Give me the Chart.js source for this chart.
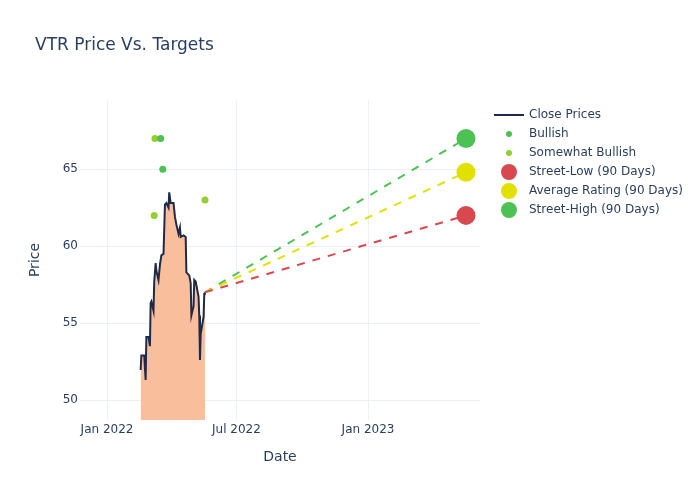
<!DOCTYPE html>
<html><head><meta charset="utf-8">
<script src="https://cdn.jsdelivr.net/npm/chart.js@4"></script>
<style>html,body{margin:0;padding:0;background:#fff}</style>
</head><body>
<canvas id="c" width="700" height="500" style="width:700px;height:500px;display:block"></canvas>
<script>
// ---------- data ----------
const closeDates = ['2022-02-17','2022-02-18','2022-02-22','2022-02-24','2022-02-25','2022-02-28','2022-03-02','2022-03-03','2022-03-04','2022-03-07','2022-03-08','2022-03-10','2022-03-11','2022-03-14','2022-03-16','2022-03-18','2022-03-21','2022-03-23','2022-03-25','2022-03-28','2022-03-29','2022-03-31','2022-04-01','2022-04-04','2022-04-06','2022-04-08','2022-04-11','2022-04-13','2022-04-14','2022-04-18','2022-04-21','2022-04-22','2022-04-26','2022-04-28','2022-04-29','2022-05-02','2022-05-03','2022-05-05','2022-05-09','2022-05-10','2022-05-11','2022-05-12','2022-05-16','2022-05-17','2022-05-18'];
const closeValues = [51.95,52.9,52.9,51.3,54.1,54.1,53.5,56.3,56.4,55.8,57.7,58.9,58.4,57.8,58.8,59.4,59.5,62.7,62.8,62.5,63.5,62.8,62.8,62.8,61.9,61.4,60.8,61.2,60.6,60.7,60.6,58.3,58.1,57.6,55.5,56.1,57.8,57.7,56.7,55.5,52.6,54.3,55.4,56.9,57.0];
const bullishDates = ['2022-03-17','2022-03-20'];
const bullishValues = [67, 65];
const somewhatBullishDates = ['2022-03-09','2022-03-08','2022-05-18'];
const somewhatBullishValues = [67, 62, 63];
const targetStartDate = '2022-05-18';
const targetEndDate = '2023-05-18';
const targetNames = ['Street-Low (90 Days)','Average Rating (90 Days)','Street-High (90 Days)'];
const targetValues = [62, 64.8, 67];
const xTickDates = ['2022-01-01','2022-07-01','2023-01-01'];
const xTickLabels = ['Jan 2022','Jul 2022','Jan 2023'];
const yTickValues = [50, 55, 60, 65];

// ---------- helpers ----------
const ORIGIN = Date.UTC(2022,0,1);
function day(s){const p=s.split('-').map(Number);return (Date.UTC(p[0],p[1]-1,p[2])-ORIGIN)/864e5;}
function pts(ds,vs){return ds.map((d,i)=>({x:day(d),y:vs[i]}));}

const FONT = '"DejaVu Sans", sans-serif';
const TXT = '#2a3f5f';
const GRID = '#ebf0f8';
const C_CLOSE = '#1f2a48';
const C_FILL = '#f9bf9c';
const C_BULL = '#4cbf55';
const C_SBULL = '#93cf2e';
const C_TARGET = ['#d8484f','#e2e000','#4cc254'];

const startVal = closeValues[closeValues.length-1];
const tickDays = xTickDates.map(day);

const datasets = [
  {label:'Close Prices', data:pts(closeDates,closeValues), borderColor:C_CLOSE, backgroundColor:C_FILL,
   fill:'start', borderWidth:2, pointRadius:0, tension:0, order:5},
  {label:'Bullish', data:pts(bullishDates,bullishValues), showLine:false, pointRadius:3.5,
   pointBackgroundColor:C_BULL, pointBorderWidth:0, order:2},
  {label:'Somewhat Bullish', data:pts(somewhatBullishDates,somewhatBullishValues), showLine:false, pointRadius:3.5,
   pointBackgroundColor:C_SBULL, pointBorderWidth:0, order:2},
];
targetValues.forEach((v,i)=>{
  datasets.push({label:targetNames[i]+' line', data:[{x:day(targetStartDate),y:startVal},{x:day(targetEndDate),y:v}],
    borderColor:C_TARGET[i], borderWidth:2, borderDash:[8,8], pointRadius:0, fill:false, order:4});
});
targetValues.forEach((v,i)=>{
  datasets.push({label:targetNames[i], data:[{x:day(targetEndDate),y:v}], showLine:false, pointRadius:9.5,
    pointBackgroundColor:C_TARGET[i], pointBorderWidth:0, order:1});
});

const legendItems = [
  {t:'line', c:C_CLOSE, l:'Close Prices'},
  {t:'dot', r:3, c:C_BULL, l:'Bullish'},
  {t:'dot', r:3, c:C_SBULL, l:'Somewhat Bullish'},
  {t:'dot', r:8, c:C_TARGET[0], l:targetNames[0]},
  {t:'dot', r:8, c:C_TARGET[1], l:targetNames[1]},
  {t:'dot', r:8, c:C_TARGET[2], l:targetNames[2]},
];

const decor = {
  id:'decor',
  afterDraw(chart){
    const ctx = chart.ctx;
    ctx.save();
    ctx.fillStyle = TXT;
    ctx.font = '17px '+FONT;
    ctx.textBaseline = 'alphabetic';
    ctx.textAlign = 'left';
    ctx.fillText('VTR Price Vs. Targets', 35, 50);
    ctx.font = '12px '+FONT;
    ctx.textBaseline = 'middle';
    legendItems.forEach((it,i)=>{
      const y = 115 + i*19;
      if(it.t==='line'){
        ctx.strokeStyle = it.c; ctx.lineWidth = 2;
        ctx.beginPath(); ctx.moveTo(494,y); ctx.lineTo(524,y); ctx.stroke();
      } else {
        ctx.fillStyle = it.c;
        ctx.beginPath(); ctx.arc(509,y,it.r,0,Math.PI*2); ctx.fill();
      }
      ctx.fillStyle = TXT;
      ctx.fillText(it.l, 529, y);
    });
    ctx.restore();
  }
};

new Chart(document.getElementById('c'), {
  type:'line',
  data:{datasets},
  plugins:[decor],
  options:{
    responsive:false, animation:false, devicePixelRatio:1,
    layout:{padding:{left:0, top:100, right:220, bottom:0}},
    plugins:{legend:{display:false}, tooltip:{enabled:false}, title:{display:false}},
    scales:{
      x:{type:'linear', min:-37.8, max:521.6,
        border:{display:false},
        grid:{color:GRID, lineWidth:1, drawTicks:false},
        ticks:{color:TXT, font:{family:FONT, size:12}, padding:3, maxRotation:0,
          callback:(v)=>{const i=tickDays.indexOf(v);return i>=0?xTickLabels[i]:'';}},
        afterBuildTicks:(a)=>{a.ticks = tickDays.map(v=>({value:v}));},
        afterFit:(a)=>{a.height = 80;},
        title:{display:true, text:'Date', color:TXT, font:{family:FONT, size:14}, padding:{top:0, bottom:34}}
      },
      y:{type:'linear', min:48.7, max:69.5,
        border:{display:false},
        grid:{color:GRID, lineWidth:1, drawTicks:false},
        ticks:{color:TXT, font:{family:FONT, size:12}, padding:2},
        afterBuildTicks:(a)=>{a.ticks = yTickValues.map(v=>({value:v}));},
        afterFit:(a)=>{a.width = 80;},
        title:{display:true, text:'Price', color:TXT, font:{family:FONT, size:14}, padding:{top:27, bottom:0}}
      }
    }
  }
});
</script>
</body></html>
